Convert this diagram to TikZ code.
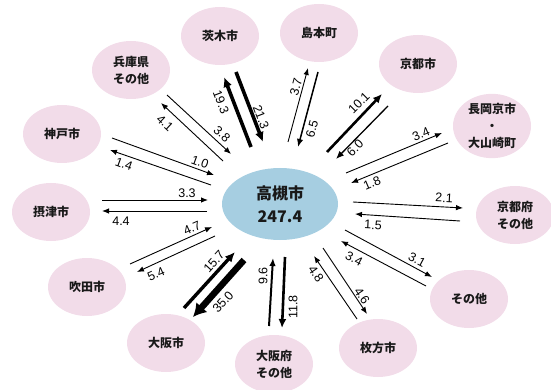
\documentclass[tikz,border=0pt]{standalone}
\usepackage{fontspec}
\usetikzlibrary{arrows.meta,shapes.geometric}
\newfontfamily\jpfont{Noto Sans CJK JP}
\newfontfamily\numfont{Liberation Sans}
\definecolor{pinkfill}{RGB}{242,220,233}
\definecolor{bluefill}{RGB}{166,206,225}
\definecolor{ink}{RGB}{25,25,25}
\tikzset{
  city/.style={ellipse, fill=pinkfill, minimum width=78pt, minimum height=58pt, inner sep=0pt, align=center, text=ink, font=\jpfont\bfseries\fontsize{12}{17}\selectfont},
  hub/.style={ellipse, fill=bluefill, minimum width=116pt, minimum height=72pt, inner sep=0pt, align=center, text=ink, font=\jpfont\bfseries\fontsize{16}{23}\selectfont},
  arr/.style={-{Latex[length=7pt,width=5.5pt]}, line width=0.9pt},
  arrm/.style={-{Latex[length=8pt,width=6.5pt]}, line width=1.5pt},
  arrt/.style={-{Latex[length=9pt,width=8pt]}, line width=2.6pt},
  arrtt/.style={-{Latex[length=10pt,width=9pt]}, line width=3.6pt},
  arrx/.style={-{Latex[length=13pt,width=15pt]}, line width=6.5pt},
  lab/.style={font=\numfont\fontsize{12.5}{12.5}\selectfont, inner sep=0pt}
}
\begin{document}
\begin{tikzpicture}[x=1pt,y=-1pt]
\useasboundingbox (0,0) rectangle (551,390);
% nodes
\node[hub] (tk) at (280,204) {高槻市\\247.4};
\node[city] (ib) at (220,36) {茨木市};
\node[city] (hy) at (131,70) {兵庫県\\その他};
\node[city] (kb) at (62,134) {神戸市};
\node[city] (st) at (51,212) {摂津市};
\node[city] (su) at (87,287) {吹田市};
\node[city] (os) at (166,343) {大阪市};
\node[city] (of) at (274,364) {大阪府\\その他};
\node[city] (hr) at (378,348) {枚方市};
\node[city] (ot) at (469,299) {その他};
\node[city] (kf) at (515,215) {京都府\\その他};
\node[city] (ng) at (492,126) {長岡京市\\・\\大山崎町};
\node[city] (kt) at (418,64) {京都市};
\node[city] (sm) at (319,33) {島本町};
% endpoints
\coordinate (a1s) at (251,147); \coordinate (a1e) at (224,77);
\coordinate (a2s) at (236,72);  \coordinate (a2e) at (263,142);
\coordinate (b1s) at (223,161); \coordinate (b1e) at (161,103);
\coordinate (b2s) at (167,95);  \coordinate (b2e) at (231,154);
\coordinate (c1s) at (112,138); \coordinate (c1e) at (214,175);
\coordinate (c2s) at (211,185); \coordinate (c2e) at (110,150);
\coordinate (d1s) at (102,200); \coordinate (d1e) at (208,200);
\coordinate (d2s) at (207,211); \coordinate (d2e) at (102,211);
\coordinate (e1s) at (130,264); \coordinate (e1e) at (212,227);
\coordinate (e2s) at (215,236); \coordinate (e2e) at (137,272);
\coordinate (f1s) at (184,308); \coordinate (f1e) at (235,252);
\coordinate (f2s) at (244,260); \coordinate (f2e) at (193,317);
\coordinate (g1s) at (269,326); \coordinate (g1e) at (273,258);
\coordinate (g2s) at (285,257); \coordinate (g2e) at (282,328);
\coordinate (h1s) at (357,319); \coordinate (h1e) at (314,256);
\coordinate (h2s) at (323,248); \coordinate (h2e) at (367,314);
\coordinate (i1s) at (426,286); \coordinate (i1e) at (341,241);
\coordinate (i2s) at (345,230); \coordinate (i2e) at (432,277);
\coordinate (j1s) at (353,202); \coordinate (j1e) at (463,208);
\coordinate (j2s) at (460,221); \coordinate (j2e) at (355,214);
\coordinate (k1s) at (346,173); \coordinate (k1e) at (442,133);
\coordinate (k2s) at (448,143); \coordinate (k2e) at (351,183);
\coordinate (l1s) at (327,152); \coordinate (l1e) at (382,94);
\coordinate (l2s) at (388,106); \coordinate (l2e) at (336,159);
\coordinate (m1s) at (288,142); \coordinate (m1e) at (308,68);
\coordinate (m2s) at (318,72);  \coordinate (m2e) at (298,147);
% arrows
\draw[arrtt] (a1s) -- (a1e);
\draw[arrtt] (a2s) -- (a2e);
\draw[arr] (b1s) -- (b1e);
\draw[arr] (b2s) -- (b2e);
\draw[arr] (c1s) -- (c1e);
\draw[arr] (c2s) -- (c2e);
\draw[arr] (d1s) -- (d1e);
\draw[arr] (d2s) -- (d2e);
\draw[arr] (e1s) -- (e1e);
\draw[arr] (e2s) -- (e2e);
\draw[arrtt,line width=3.4pt] (f1s) -- (f1e);
\draw[arrx] (f2s) -- (f2e);
\draw[arrm,line width=2pt] (g1s) -- (g1e);
\draw[arrt] (g2s) -- (g2e);
\draw[arr] (h1s) -- (h1e);
\draw[arr] (h2s) -- (h2e);
\draw[arr] (i1s) -- (i1e);
\draw[arr] (i2s) -- (i2e);
\draw[arr] (j1s) -- (j1e);
\draw[arr] (j2s) -- (j2e);
\draw[arr] (k1s) -- (k1e);
\draw[arr] (k2s) -- (k2e);
\draw[arrt] (l1s) -- (l1e);
\draw[arrm,line width=1.3pt] (l2s) -- (l2e);
\draw[arr] (m1s) -- (m1e);
\draw[arrm] (m2s) -- (m2e);
% labels
\node[lab,rotate=-69] (la1) at (221,102) {19.3};
\node[lab,rotate=-69] (la2) at (261,117) {21.3};
\node[lab,rotate=-43] (lb1) at (165,123) {4.1};
\node[lab,rotate=-43] (lb2) at (222,134) {3.8};
\node[lab,rotate=-20] (lc1) at (200,162) {1.0};
\node[lab,rotate=-20] (lc2) at (124,164) {1.4};
\node[lab] (ld1) at (187,193) {3.3};
\node[lab] (ld2) at (121,221) {4.4};
\node[lab,rotate=24] (le1) at (192,228) {4.7};
\node[lab,rotate=24] (le2) at (156,274) {5.4};
\node[lab,rotate=48] (lf1) at (214,262) {15.7};
\node[lab,rotate=48] (lf2) at (223,302) {35.0};
\node[lab,rotate=90] (lg1) at (263,276) {9.6};
\node[lab,rotate=90] (lg2) at (293,307) {11.8};
\node[lab,rotate=-56] (lh1) at (316,274) {4.8};
\node[lab,rotate=-56] (lh2) at (362,296) {4.6};
\node[lab,rotate=-28] (li1) at (354,259) {3.4};
\node[lab,rotate=-28] (li2) at (417,260) {3.1};
\node[lab,rotate=-3] (lj1) at (444,198) {2.1};
\node[lab,rotate=-3] (lj2) at (373,225) {1.5};
\node[lab,rotate=23] (lk1) at (421,134) {3.4};
\node[lab,rotate=23] (lk2) at (372,183) {1.8};
\node[lab,rotate=45] (ll1) at (359,103) {10.1};
\node[lab,rotate=45] (ll2) at (355,148) {6.0};
\node[lab,rotate=75] (lm1) at (296,87) {3.7};
\node[lab,rotate=75] (lm2) at (312,129) {6.5};
\end{tikzpicture}
\end{document}
